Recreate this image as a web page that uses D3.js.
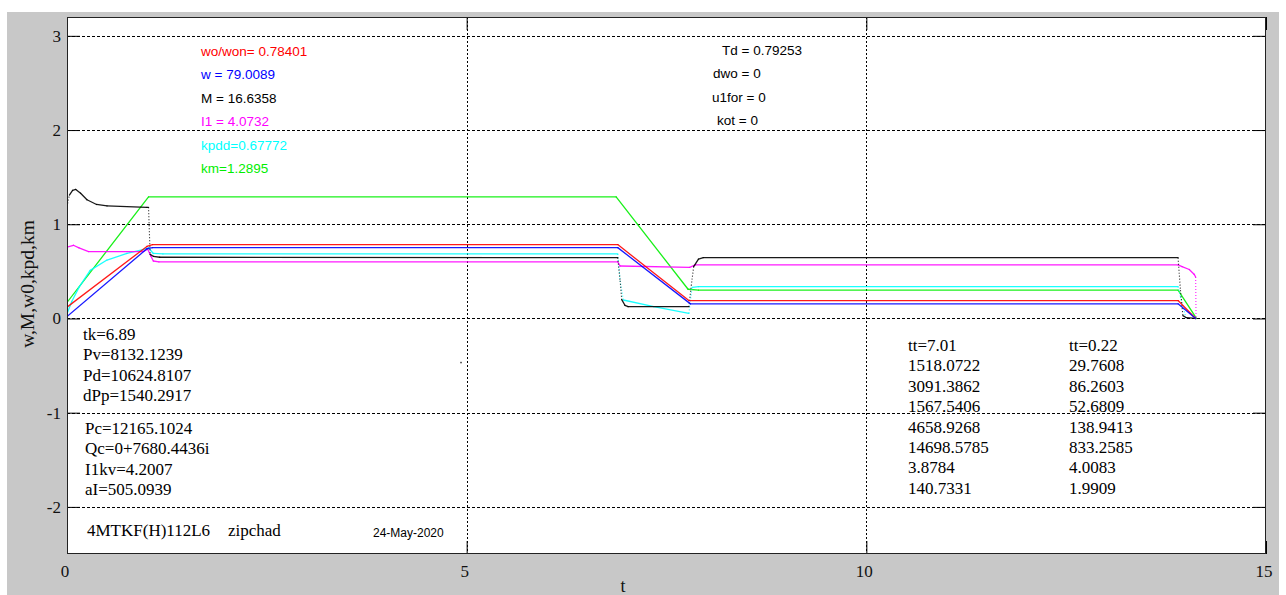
<!DOCTYPE html>
<html>
<head>
<meta charset="utf-8">
<script src="https://cdn.jsdelivr.net/npm/d3@7/dist/d3.min.js"></script>
<style>
  html, body { margin: 0; padding: 0; background: #ffffff; }
  svg { display: block; }
  .serif { font-family: "Liberation Serif", "Times New Roman", serif; }
  .sans { font-family: "Liberation Sans", Arial, sans-serif; }
</style>
</head>
<body>
<svg id="chart" width="1286" height="595"></svg>
<script>
// Time axis and value axis ticks
const xTicks = [0, 5, 10, 15];
const yTicks = [-2, -1, 0, 1, 2, 3];
const xLabel = "t";
const yLabel = "w,M,w0,kpd,km";

// Series: [t, value] samples
const seriesRed = [[0,0.12],[1.0,0.765],[1.07,0.784],[6.89,0.784],[7.78,0.19],[13.9,0.19],[14.12,0]];
const seriesBlue = [[0,0.02],[1.0,0.74],[1.07,0.752],[6.89,0.752],[7.8,0.155],[13.9,0.155],[14.12,0]];
const seriesGreen = [[0,0.17],[1.02,1.29],[6.87,1.29],[7.77,0.31],[7.9,0.30],[13.9,0.30],[14.13,0]];
const seriesCyan = [[0,0.05],[0.06,0.18],[0.15,0.33],[0.29,0.51],[0.5,0.62],[0.75,0.69],[0.95,0.73],
  [1.02,0.75],[1.08,0.69],[1.2,0.685],[6.89,0.685],[6.92,0.40],[6.96,0.196],[7.34,0.125],[7.78,0.055],
  [7.82,0.33],[7.9,0.338],[13.9,0.338],[13.93,0.23],[14.0,0]];
const seriesBlack = [[0,1.19],[0.03,1.31],[0.07,1.36],[0.11,1.37],[0.17,1.33],[0.25,1.26],[0.37,1.21],
  [0.5,1.195],[1.0,1.18],[1.02,1.18],[1.04,0.68],[1.08,0.66],[1.16,0.65],[6.89,0.645],[6.92,0.40],
  [6.94,0.20],[6.98,0.14],[7.02,0.125],[7.78,0.125],[7.81,0.35],[7.84,0.55],[7.9,0.63],[7.96,0.645],
  [13.9,0.645],[13.93,0.30],[13.96,0.03],[14.0,0.01],[14.12,0]];
const seriesMagenta = [[0,0.756],[0.08,0.777],[0.15,0.75],[0.27,0.71],[0.95,0.71],[1.01,0.735],
  [1.05,0.66],[1.08,0.61],[1.15,0.60],[6.89,0.60],[6.92,0.557],[7.79,0.543],[7.86,0.568],
  [13.9,0.568],[13.95,0.55],[14.04,0.52],[14.1,0.47],[14.12,0.44],[14.125,0]];
const strayPoint = [4.92, -0.46];

// Text annotations
const legendLines = ["wo/won= 0.78401", "w = 79.0089", "M = 16.6358", "I1 = 4.0732", "kpdd=0.67772", "km=1.2895"];
const paramLines = ["Td = 0.79253", "dwo = 0", "u1for = 0", "kot = 0"];
const leftBlockA = ["tk=6.89", "Pv=8132.1239", "Pd=10624.8107", "dPp=1540.2917"];
const leftBlockB = ["Pc=12165.1024", "Qc=0+7680.4436i", "I1kv=4.2007", "aI=505.0939"];
const colA = ["tt=7.01", "1518.0722", "3091.3862", "1567.5406", "4658.9268", "14698.5785", "3.8784", "140.7331"];
const colB = ["tt=0.22", "29.7608", "86.2603", "52.6809", "138.9413", "833.2585", "4.0083", "1.9909"];
const footerId = "4MTKF(H)112L6";
const footerName = "zipchad";
const footerDate = "24-May-2020";

const svg = d3.select("#chart");
const W = 1286, H = 595;
const plot = { left: 67, right: 1266, top: 17, bottom: 554 };

// figure background
svg.append("rect").attr("x", 7).attr("y", 12).attr("width", 1272).attr("height", H - 12).attr("fill", "#c8c8c8");
svg.append("rect").attr("x", plot.left).attr("y", plot.top)
  .attr("width", plot.right - plot.left).attr("height", plot.bottom - plot.top).attr("fill", "#ffffff");

const x = d3.scaleLinear().domain([0, 15]).range([plot.left, plot.right]);
const y = d3.scaleLinear().domain([-2.5, 3.2]).range([plot.bottom, plot.top]);

// grid lines
const grid = svg.append("g");
yTicks.forEach(v => {
  grid.append("line").attr("x1", plot.left).attr("x2", plot.right)
    .attr("y1", Math.round(y(v)) + 0.5).attr("y2", Math.round(y(v)) + 0.5)
    .attr("stroke", "#000").attr("stroke-width", 1).attr("stroke-dasharray", "3,2");
});
xTicks.filter(v => v > 0 && v < 15).forEach(v => {
  grid.append("line").attr("x1", Math.round(x(v)) + 0.5).attr("x2", Math.round(x(v)) + 0.5)
    .attr("y1", plot.top).attr("y2", plot.bottom)
    .attr("stroke", "#000").attr("stroke-width", 1).attr("stroke-dasharray", "2,2");
});

// inward ticks on all four sides
const tickLen = 13;
const axL = d3.axisLeft(y).tickValues(yTicks).tickSizeInner(-tickLen).tickSizeOuter(0).tickFormat("");
const axR = d3.axisRight(y).tickValues(yTicks).tickSizeInner(-tickLen).tickSizeOuter(0).tickFormat("");
const axB = d3.axisBottom(x).tickValues(xTicks).tickSizeInner(-tickLen).tickSizeOuter(0).tickFormat("");
const axT = d3.axisTop(x).tickValues(xTicks).tickSizeInner(-tickLen).tickSizeOuter(0).tickFormat("");
[[axL, `translate(${plot.left},0)`], [axR, `translate(${plot.right},0)`],
 [axB, `translate(0,${plot.bottom})`], [axT, `translate(0,${plot.top})`]].forEach(([ax, tr]) => {
  const g = svg.append("g").attr("transform", tr).call(ax);
  g.select(".domain").remove();
  g.selectAll("line").attr("stroke", "#000");
});

// tick labels
svg.append("g").selectAll("text").data(yTicks).join("text")
  .attr("class", "serif").attr("x", 61).attr("y", d => y(d) + 6)
  .attr("text-anchor", "end").attr("font-size", 17).attr("fill", "#111")
  .text(d => d);
svg.append("g").selectAll("text").data(xTicks).join("text")
  .attr("class", "serif").attr("x", d => x(d) - 2).attr("y", 577)
  .attr("text-anchor", "middle").attr("font-size", 17).attr("fill", "#111")
  .text(d => d);

// axis titles
svg.append("text").attr("class", "serif").attr("x", 623).attr("y", 592)
  .attr("text-anchor", "middle").attr("font-size", 18).attr("fill", "#111").text(xLabel);
svg.append("text").attr("class", "serif")
  .attr("transform", "translate(34,284) rotate(-90)")
  .attr("text-anchor", "middle").attr("font-size", 19.5).attr("fill", "#111").text(yLabel);

// curves
svg.append("clipPath").attr("id", "plotclip").append("rect")
  .attr("x", plot.left).attr("y", plot.top)
  .attr("width", plot.right - plot.left).attr("height", plot.bottom - plot.top);
const curves = svg.append("g").attr("clip-path", "url(#plotclip)");

function drawSeries(data, color) {
  // steep transients are rendered dotted, the rest as solid strokes
  for (let i = 0; i < data.length - 1; i++) {
    const a = data[i], b = data[i + 1];
    const dx = Math.abs(x(b[0]) - x(a[0])), dy = Math.abs(y(b[1]) - y(a[1]));
    const steep = dy > 3 * dx;
    curves.append("line")
      .attr("x1", x(a[0])).attr("y1", y(a[1]))
      .attr("x2", x(b[0])).attr("y2", y(b[1]))
      .attr("stroke", color).attr("stroke-width", steep ? 1.1 : 1.3)
      .attr("stroke-linecap", steep ? "butt" : "round")
      .attr("stroke-dasharray", steep ? "1,2" : null)
      .attr("stroke-opacity", 0.9);
  }
}
drawSeries(seriesGreen, "#00ee00");
drawSeries(seriesCyan, "#00ffff");
drawSeries(seriesMagenta, "#ff00ff");
drawSeries(seriesBlack, "#000000");
drawSeries(seriesRed, "#ff0000");
drawSeries(seriesBlue, "#0000ff");

curves.append("rect").attr("x", x(strayPoint[0])).attr("y", y(strayPoint[1]))
  .attr("width", 1.5).attr("height", 1.5).attr("fill", "#333");

// plot frame
svg.append("rect").attr("x", plot.left + 0.5).attr("y", plot.top + 0.5)
  .attr("width", plot.right - plot.left - 1).attr("height", plot.bottom - plot.top - 1)
  .attr("fill", "none").attr("stroke", "#222").attr("stroke-width", 1);

// legend values
const legendColors = ["#ff0000", "#0000ff", "#000000", "#ff00ff", "#00ffff", "#00ee00"];
svg.append("g").selectAll("text").data(legendLines).join("text")
  .attr("class", "sans").attr("x", 201).attr("y", (d, i) => 56 + i * 23.4)
  .attr("font-size", 13.5).attr("fill", (d, i) => legendColors[i]).text(d => d);

const paramX = [722, 713, 712, 717];
svg.append("g").selectAll("text").data(paramLines).join("text")
  .attr("class", "sans").attr("x", (d, i) => paramX[i]).attr("y", (d, i) => 55 + i * 23.4)
  .attr("font-size", 13.5).attr("fill", "#000").text(d => d);

// computed results, left block
svg.append("g").selectAll("text").data(leftBlockA).join("text")
  .attr("class", "serif").attr("x", 83).attr("y", (d, i) => 340 + i * 20.4)
  .attr("font-size", 17).attr("fill", "#000").text(d => d);
svg.append("g").selectAll("text").data(leftBlockB).join("text")
  .attr("class", "serif").attr("x", 85).attr("y", (d, i) => 434 + i * 20.4)
  .attr("font-size", 17).attr("fill", "#000").text(d => d);

// computed results, right columns
svg.append("g").selectAll("text").data(colA).join("text")
  .attr("class", "serif").attr("x", 908).attr("y", (d, i) => 351 + i * 20.4)
  .attr("font-size", 17).attr("fill", "#000").text(d => d);
svg.append("g").selectAll("text").data(colB).join("text")
  .attr("class", "serif").attr("x", 1069).attr("y", (d, i) => 351 + i * 20.4)
  .attr("font-size", 17).attr("fill", "#000").text(d => d);

// footer
svg.append("text").attr("class", "serif").attr("x", 87).attr("y", 536)
  .attr("font-size", 17).attr("fill", "#000").text(footerId);
svg.append("text").attr("class", "serif").attr("x", 228).attr("y", 536)
  .attr("font-size", 17).attr("fill", "#000").text(footerName);
svg.append("text").attr("class", "sans").attr("x", 373).attr("y", 537)
  .attr("font-size", 12).attr("fill", "#000").text(footerDate);
</script>
</body>
</html>
